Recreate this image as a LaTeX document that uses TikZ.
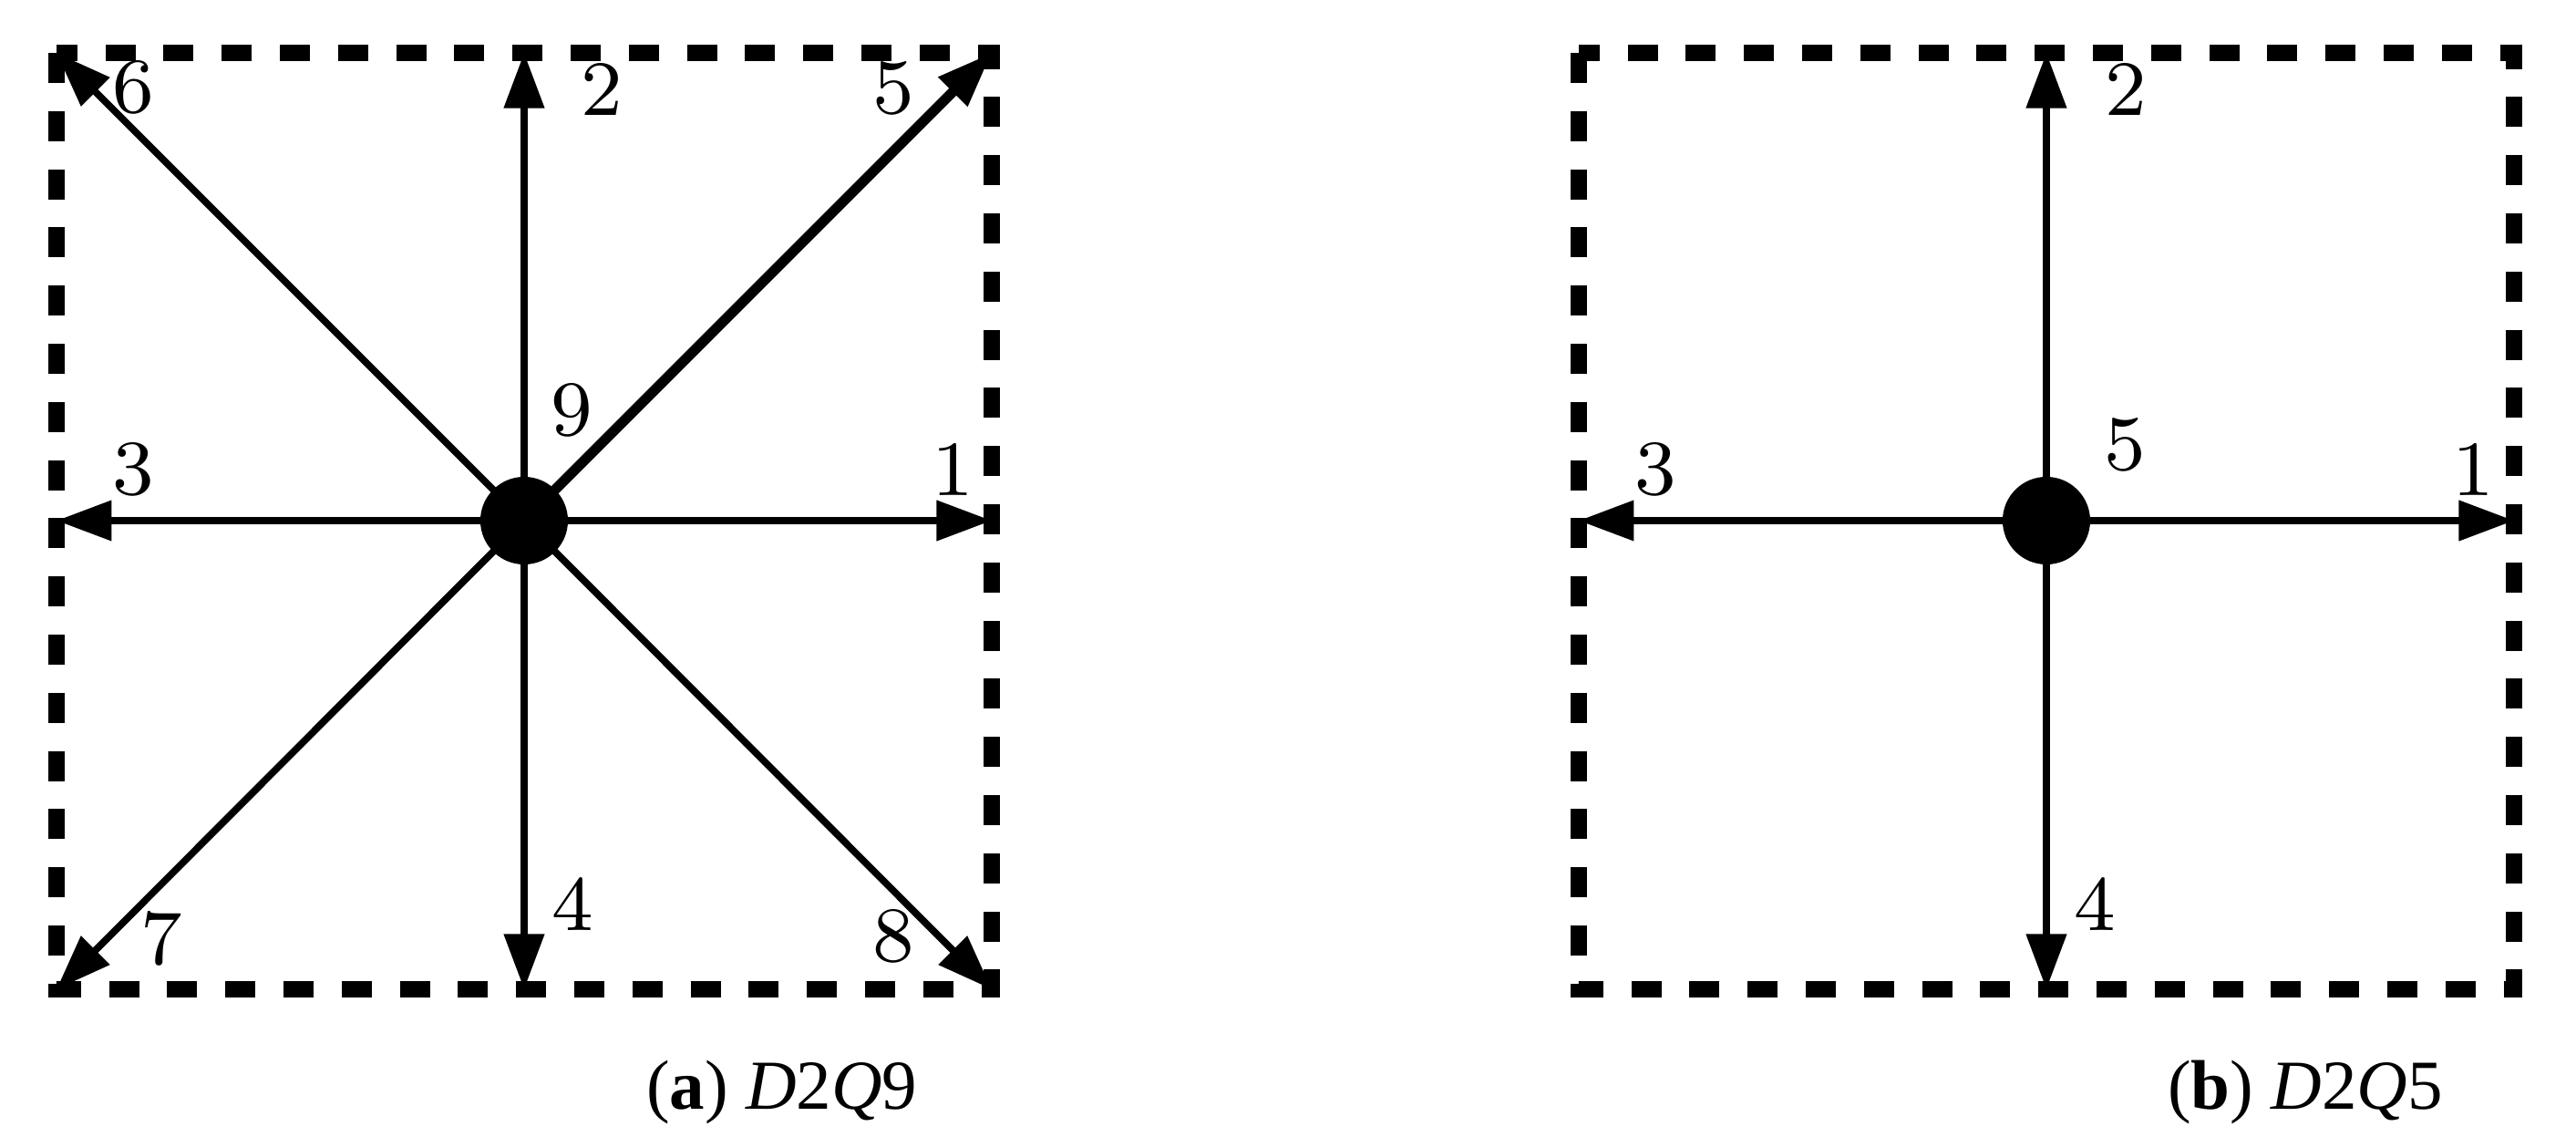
\documentclass[tikz,border=0pt]{standalone}
\usepackage{fontspec}
\newfontfamily\capfont{Liberation Serif}
\usetikzlibrary{arrows.meta}
\tikzset{
  vel/.style={-{Triangle[length=5.5pt,width=3.9pt]}, line width=0.7pt},
  celda/.style={line width=1.55pt, dash pattern=on 3pt off 2.8pt},
  nodo/.style={circle, fill=black, inner sep=0pt, minimum size=0.307cm},
  etiq/.style={font=\fontsize{7.8}{9}\selectfont, inner sep=0pt},
  pie/.style={font=\capfont\fontsize{7}{8}\selectfont, inner sep=0pt, anchor=base west}
}
\begin{document}
\begin{tikzpicture}[x=0.3195cm,y=0.3195cm]
        \useasboundingbox (0,0) rectangle (28.26,12.47);
        % Celda D2Q9
        \draw[celda] (0.62,11.89) rectangle (10.88,1.62);
        \coordinate (a1) at (10.88,6.76);
        \coordinate (a2) at (5.75,11.89);
        \coordinate (a3) at (0.62,6.76);
        \coordinate (a4) at (5.75,1.62);
        \coordinate (a5) at (10.88,11.89);
        \coordinate (a6) at (0.62,11.89);
        \coordinate (a7) at (0.62,1.62);
        \coordinate (a8) at (10.88,1.62);
        \draw[vel] (5.75,6.76) coordinate (a0) -- (a1);
        \draw[vel] (a0) -- (a2);
        \draw[vel] (a0) -- (a3);
        \draw[vel] (a0) -- (a4);
        \draw[vel, line width=1pt] (a0) -- (a5);
        \draw[vel] (a0) -- (a6);
        \draw[vel] (a0) -- (a7);
        \draw[vel] (a0) -- (a8);
        \node[nodo] (a9) at (a0) {};
        \node[etiq] (la1) at (10.45,7.32) {1};
        \node[etiq] (la2) at (6.60,11.49) {2};
        \node[etiq] (la3) at (1.46,7.32) {3};
        \node[etiq] (la4) at (6.28,2.55) {4};
        \node[etiq] (la5) at (9.80,11.50) {5};
        \node[etiq] (la6) at (1.46,11.51) {6};
        \node[etiq] (la7) at (1.77,2.18) {7};
        \node[etiq] (la8) at (9.80,2.20) {8};
        \node[etiq] (la9) at (6.27,7.97) {9};
        \node[pie] (pa) at (7.07,0.30) {(\textbf{a}) \textit{D}2\textit{Q}9};
        % Celda D2Q5
        \draw[celda] (17.32,11.89) rectangle (27.58,1.62);
        \coordinate (b1) at (27.58,6.76);
        \coordinate (b2) at (22.45,11.89);
        \coordinate (b3) at (17.32,6.76);
        \coordinate (b4) at (22.45,1.62);
        \draw[vel] (22.45,6.76) coordinate (b0) -- (b1);
        \draw[vel] (b0) -- (b2);
        \draw[vel] (b0) -- (b3);
        \draw[vel] (b0) -- (b4);
        \node[nodo] (b5) at (b0) {};
        \node[etiq] (lb1) at (27.13,7.32) {1};
        \node[etiq] (lb2) at (23.32,11.49) {2};
        \node[etiq] (lb3) at (18.16,7.32) {3};
        \node[etiq] (lb4) at (22.98,2.55) {4};
        \node[etiq] (lb5) at (23.31,7.59) {5};
        \node[pie] (pb) at (23.76,0.30) {(\textbf{b}) \textit{D}2\textit{Q}5};
    \end{tikzpicture}
\end{document}
